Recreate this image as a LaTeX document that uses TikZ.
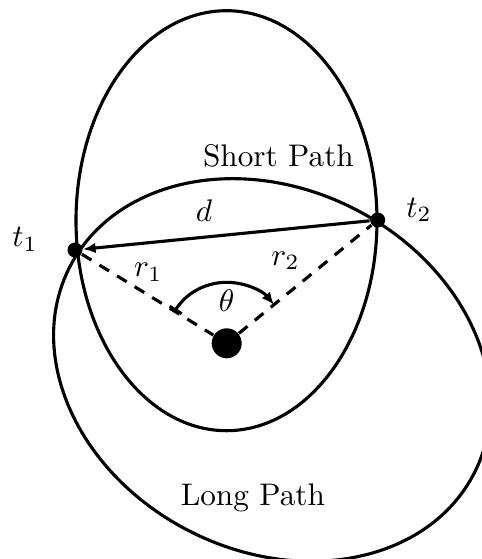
\documentclass[tikz,border=0pt]{standalone}
\usetikzlibrary{arrows.meta}
\begin{document}
\begin{tikzpicture}[x=0.32pt,y=0.32pt,
  curve/.style={line width=1pt},
  dotnode/.style={circle,fill=black,inner sep=0pt,minimum size=4.8pt},
  bigdot/.style={circle,fill=black,inner sep=0pt,minimum size=9.6pt},
  radline/.style={line width=1pt,dash pattern=on 3.6pt off 3pt},
  lbl/.style={anchor=base,inner sep=0pt},
  tip/.style={-{Latex[length=4pt,width=3.4pt]}}
]
\useasboundingbox (0,0) rectangle (482,559);
\draw[curve] (226.5,338.3) ellipse [x radius=150.5, y radius=210];
\draw[curve, rotate around={-26.9:(272,189)}] (272,189) ellipse [x radius=227, y radius=181];
\node[dotnode] (t1) at (75,309) {};
\node[dotnode] (t2) at (377.7,339) {};
\node[bigdot] (O) at (226.7,215.7) {};
\draw[curve,tip] (t2) -- (t1);
\draw[radline] (t1) -- (O);
\draw[radline] (O) -- (t2);
\draw[curve,{Bar[width=4.5pt]}-{Latex[length=4pt,width=3.4pt]}] ([shift={(148.4:61)}]O.center) arc[start angle=148.4,end angle=39.2,radius=61];
\node[lbl] (lt1) at (25,312.3) {$t_1$};
\node[lbl] (lt2) at (419,341.7) {$t_2$};
\node[lbl] (ld) at (204,337.3) {$d$};
\node[lbl] (lr1) at (148.3,282.3) {$r_1$};
\node[lbl] (lr2) at (285.5,294) {$r_2$};
\node[lbl] (lth) at (226.7,247.3) {$\theta$};
\node[lbl] (ls) at (278.4,392.3) {Short Path};
\node[lbl] (ll) at (252.9,53.3) {Long Path};
\end{tikzpicture}
\end{document}
